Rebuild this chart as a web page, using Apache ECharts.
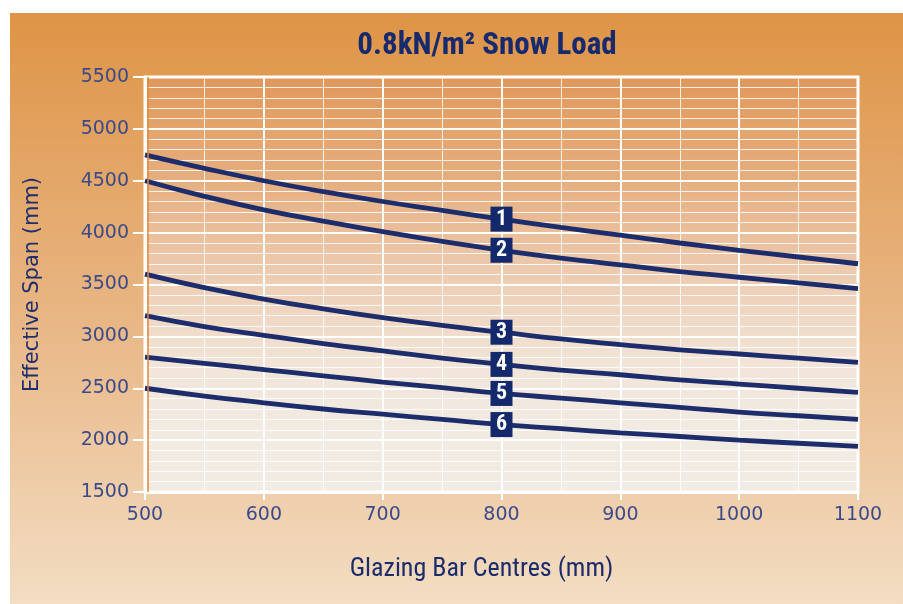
<!DOCTYPE html>
<html>
<head>
<meta charset="utf-8">
<script src="https://cdn.jsdelivr.net/npm/echarts@6/dist/echarts.min.js"></script>
<style>
  html, body { margin: 0; padding: 0; background: #fff; }
  #chart { width: 903px; height: 604px; }
</style>
</head>
<body>
<div id="chart"></div>
<script>
// glazing bar centres (mm)
const centres = [500, 550, 600, 650, 700, 750, 800, 850, 900, 950, 1000, 1050, 1100];
// effective span (mm)
const span1 = [4750, 4620, 4500, 4395, 4300, 4215, 4130, 4050, 3975, 3900, 3830, 3765, 3700];
const span2 = [4500, 4350, 4220, 4110, 4010, 3915, 3830, 3755, 3690, 3625, 3570, 3515, 3460];
const span3 = [3600, 3470, 3360, 3265, 3180, 3105, 3040, 2975, 2920, 2870, 2830, 2790, 2750];
const span4 = [3200, 3095, 3010, 2930, 2860, 2790, 2730, 2675, 2630, 2580, 2540, 2500, 2460];
const span5 = [2800, 2740, 2680, 2620, 2560, 2505, 2450, 2405, 2360, 2315, 2270, 2235, 2200];
const span6 = [2500, 2425, 2360, 2300, 2250, 2200, 2150, 2110, 2070, 2035, 2000, 1970, 1940];
const curveNames = ["1", "2", "3", "4", "5", "6"];
const labelAt = 800;

const navy = "#1d2d6c";
const narrow = "'Liberation Sans Narrow', 'Roboto Condensed', 'Liberation Sans', sans-serif";
const plain = "'DejaVu Sans', Verdana, sans-serif";

let myChart = echarts.init(document.getElementById("chart"));

const curves = [span1, span2, span3, span4, span5, span6];
const series = curves.map((vals, i) => {
  const idx = centres.indexOf(labelAt);
  return {
    name: curveNames[i],
    type: "line",
    smooth: true,
    symbol: "none",
    data: centres.map((c, k) => [c, vals[k]]),
    lineStyle: { color: navy, width: 4.8 },
    z: 3,
    markPoint: {
      symbol: "rect",
      symbolSize: [22, 25],
      itemStyle: { color: "#13296b" },
      label: {
        show: true,
        formatter: curveNames[i],
        color: "#fff",
        fontWeight: "bold",
        fontSize: 22,
        fontFamily: narrow
      },
      data: [{ coord: [labelAt, vals[idx]] }]
    }
  };
});

// thin orange line just inside the left axis
series[0].markLine = {
  silent: true,
  symbol: "none",
  label: { show: false },
  lineStyle: { color: "#e0883a", width: 1.5, type: "solid" },
  data: [{ xAxis: 502 }]
};

const chartOption = {
  animation: false,
  backgroundColor: "#ffffff",
  graphic: [{
    type: "rect",
    z: -10,
    shape: { x: 10, y: 13, width: 893, height: 591 },
    style: {
      fill: new echarts.graphic.LinearGradient(0, 0, 0, 1, [
        { offset: 0, color: "#de9446" },
        { offset: 0.5, color: "#e8b582" },
        { offset: 1, color: "#f3ddc3" }
      ])
    }
  }],
  title: {
    text: "0.8kN/m² Snow Load",
    left: 482,
    textAlign: "center",
    top: 26,
    textStyle: {
      color: "#172a6e",
      fontSize: 31,
      fontWeight: "bold",
      fontFamily: narrow
    }
  },
  grid: {
    left: 145,
    right: 45,
    top: 77,
    bottom: 112,
    show: true,
    borderColor: "#ffffff",
    borderWidth: 3,
    backgroundColor: new echarts.graphic.LinearGradient(0, 0, 0, 1, [
      { offset: 0, color: "#e0985a" },
      { offset: 0.25, color: "#e6ae7f" },
      { offset: 0.5, color: "#eecfb6" },
      { offset: 0.7, color: "#f2e5d9" },
      { offset: 0.85, color: "#f1ebe3" },
      { offset: 1, color: "#f0ebe4" }
    ])
  },
  xAxis: {
    type: "value",
    min: 500,
    max: 1100,
    interval: 100,
    name: "Glazing Bar Centres (mm)",
    nameLocation: "middle",
    nameGap: 64,
    nameTextStyle: { color: "#1b2b6c", fontSize: 26, fontFamily: narrow, padding: [0, 40, 0, 0] },
    axisLine: { show: true, lineStyle: { color: "#fff", width: 3 } },
    axisTick: { show: true, length: 8, lineStyle: { color: "#fff", width: 2 } },
    axisLabel: { color: "#3b4a8a", fontSize: 19, fontFamily: plain, margin: 14, formatter: (v) => String(v) },
    splitLine: { show: true, lineStyle: { color: "#fff", width: 2 } },
    minorTick: { show: false, splitNumber: 2 },
    minorSplitLine: { show: true, lineStyle: { color: "rgba(255,255,255,0.85)", width: 1 } }
  },
  yAxis: {
    type: "value",
    min: 1500,
    max: 5500,
    interval: 500,
    name: "Effective Span (mm)",
    nameLocation: "middle",
    nameGap: 102,
    nameTextStyle: { color: "#1f2e6e", fontSize: 21, fontFamily: plain },
    axisLine: { show: true, lineStyle: { color: "#fff", width: 3 } },
    axisTick: { show: true, length: 12, lineStyle: { color: "#fff", width: 2 } },
    axisLabel: { color: "#3b4a8a", fontSize: 19, fontFamily: plain, margin: 16, formatter: (v) => String(v) },
    splitLine: { show: true, lineStyle: { color: "#fff", width: 2 } },
    minorTick: { show: false, splitNumber: 5 },
    minorSplitLine: { show: true, lineStyle: { color: "rgba(255,255,255,0.85)", width: 1 } }
  },
  series: series
};

myChart.setOption(chartOption);
</script>
</body>
</html>
